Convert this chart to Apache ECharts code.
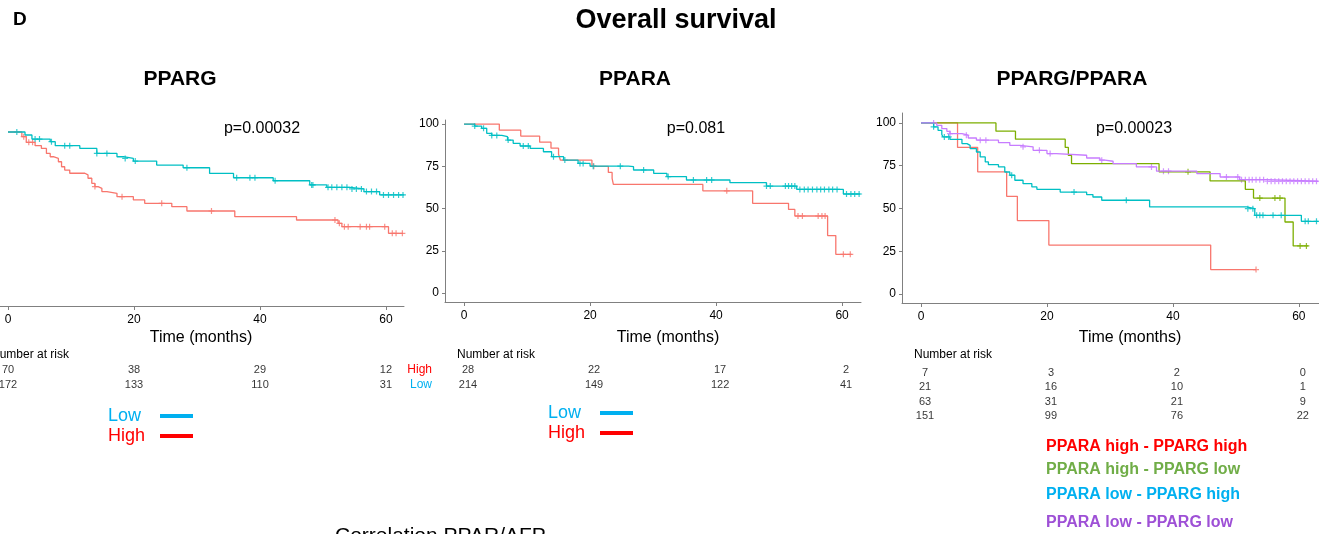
<!DOCTYPE html>
<html>
<head>
<meta charset="utf-8">
<title>Overall survival</title>
<script src="https://cdn.jsdelivr.net/npm/echarts@6/dist/echarts.min.js"></script>
<style>
  html, body { margin: 0; padding: 0; background: #fff; }
  #main { width: 1319px; height: 534px; }
</style>
</head>
<body>
<div id="main"></div>
<script>
// ---- data (months, survival %) ----
const months = [0, 20, 40, 60];
const survTicks = [0, 25, 50, 75, 100];

// PPARG panel
const ppargLow = [[0,100],[2.7,98.2],[3.8,95.8],[6.7,94.2],[7.5,91.8],[11.4,90.2],[14.1,87.2],[17.3,85.2],[18.3,84.2],[19.9,82.6],[23.6,80.2],[27.8,78.6],[32.0,75.2],[35.8,72.6],[42.1,70.8],[47.9,68.3],[50.6,66.9],[54.3,65.9],[56.5,64.3],[59.0,62.3],[62.9,62.3]];
const ppargLowCens = [1.4,4.3,5.0,6.9,9.0,9.8,14.1,15.7,18.6,20.2,28.4,36.3,38.4,39.2,42.4,48.2,48.4,50.8,51.4,52.2,53.0,53.8,54.6,55.3,56.1,56.9,57.7,58.5,59.6,60.4,61.2,62.0,62.7];
const ppargHigh = [[0,100],[2.2,97.2],[2.9,93.8],[4.3,91.8],[5.3,90.2],[6.1,87.2],[6.7,85.2],[7.2,84.2],[8.0,82.2],[8.5,79.2],[9.0,77.2],[9.8,75.3],[12.2,74.3],[12.7,72.3],[13.3,69.3],[13.8,67.3],[14.3,66.3],[14.9,64.3],[15.7,63.3],[17.3,61.3],[19.9,59.3],[21.7,57.3],[26.0,55.3],[28.4,52.7],[36.0,49.3],[45.8,47.3],[52.4,45.3],[53.0,43.3],[60.4,39.3],[62.7,39.3]];
const ppargHighCens = [2.5,3.3,3.9,13.8,18.1,24.4,32.3,51.9,52.6,53.4,54.0,55.9,56.9,57.4,59.8,61.0,61.6,62.6];

// PPARA panel
const pparaLow = [[0,100],[1.7,98.8],[2.8,97.5],[3.6,94.5],[4.4,93.3],[6.0,92.5],[6.9,90.5],[7.8,88.6],[8.9,87.0],[10.5,85.6],[12.6,83.6],[13.9,80.7],[15.8,78.7],[18.1,76.7],[20.0,75.1],[26.1,74.8],[26.9,72.8],[30.1,70.8],[32.2,68.9],[35.3,66.9],[42.2,65.3],[48.0,63.3],[52.8,61.3],[60.2,58.6],[62.9,58.6]];
const pparaLowCens = [1.7,3.1,4.4,5.2,7.0,9.4,10.2,14.2,16.0,18.4,18.9,20.5,24.8,28.5,32.4,36.4,38.5,39.3,48.0,48.6,51.0,51.5,52.0,52.5,53.3,54.0,54.6,55.3,56.0,56.6,57.2,57.9,58.5,59.2,60.7,61.4,62.0,62.7];
const pparaHigh = [[0,100],[5.6,96.4],[9.0,92.9],[12.0,89.3],[13.8,85.7],[15.0,82.1],[15.3,78.6],[20.3,75.0],[22.9,71.4],[23.5,67.9],[23.7,64.3],[37.9,60.5],[45.8,53.1],[51.5,49.5],[52.5,45.6],[57.7,34.0],[59.0,22.9],[61.5,22.9]];
const pparaHighCens = [20.6,41.7,53.0,53.7,56.2,56.8,57.3,60.2,61.3];

// PPARG/PPARA panel
const hiHi = [[0,100],[5.8,85.7],[9.0,71.4],[13.6,57.1],[15.3,42.9],[20.3,28.6],[46.0,14.3],[53.2,14.3]];
const hiHiCens = [53.2];
const hiLo = [[0,100],[11.9,95.2],[15.0,90.5],[22.9,85.7],[23.4,81.0],[23.9,76.2],[37.8,71.4],[45.9,66.1],[51.5,61.2],[52.8,56.1],[57.8,42.1],[59.1,28.1],[61.5,28.1]];
const hiLoCens = [42.4,53.8,56.2,57.0,60.2,61.2];
const loHi = [[0,100],[2.0,97.7],[2.7,95.7],[3.3,93.2],[3.5,91.8],[4.6,90.4],[6.5,87.9],[7.3,86.9],[7.8,85.0],[8.8,83.0],[9.4,80.1],[10.2,77.2],[10.7,75.6],[12.3,74.3],[13.3,71.3],[14.1,69.4],[14.9,66.5],[16.2,64.5],[17.6,62.6],[18.4,61.2],[22.1,59.6],[26.3,58.1],[27.3,56.7],[28.7,54.8],[36.3,50.9],[51.7,49.9],[53.0,46.0],[60.4,42.5],[63.1,42.5]];
const loHiCens = [2.0,3.7,4.4,14.4,24.3,32.6,51.9,52.7,53.3,53.8,54.3,55.9,57.2,61.0,61.5,62.8];
const loLo = [[0,100],[2.5,98.6],[3.3,96.7],[4.1,95.1],[4.6,93.8],[6.5,92.8],[7.5,91.2],[8.8,89.9],[12.3,88.5],[14.1,86.9],[15.7,86.0],[17.8,84.0],[20.0,82.1],[21.5,81.1],[26.3,79.5],[28.4,78.2],[29.2,77.6],[30.5,76.2],[34.2,74.3],[37.4,71.8],[43.8,70.4],[47.5,68.4],[50.6,66.8],[54.9,65.9],[63.1,65.9]];
const loLoCens = [2.0,4.6,7.2,9.4,10.3,16.2,18.8,20.5,28.7,36.6,38.5,39.3,48.5,50.3,50.9,51.5,52.1,52.6,53.2,53.8,54.4,55.0,55.6,56.2,56.8,57.4,58.0,58.6,59.2,59.8,60.4,61.0,61.6,62.2,62.8];

// numbers at risk at 0, 20, 40, 60 months
const riskPpargHigh = [70, 38, 29, 12];
const riskPpargLow = [172, 133, 110, 31];
const riskPparaHigh = [28, 22, 17, 2];
const riskPparaLow = [214, 149, 122, 41];
const riskHiHi = [7, 3, 2, 0];
const riskHiLo = [21, 16, 10, 1];
const riskLoHi = [63, 31, 21, 9];
const riskLoLo = [151, 99, 76, 22];

const pValues = ['p=0.00032', 'p=0.081', 'p=0.00023'];
const comboNames = ['PPARA high - PPARG high', 'PPARA high - PPARG low', 'PPARA low - PPARG high', 'PPARA low - PPARG low'];

// ---- styling ----
const FONT = '"Liberation Sans", Arial, sans-serif';
const TEAL = '#00BFC4', SALMON = '#F8766D', GREEN = '#7CAE00', PURPLE = '#C77CFF';
const AXIS = '#808080';
const PLUS = 'path://M2,0H3V2H5V3H3V5H2V3H0V2H2Z';

// survival value of a step curve at time t (to sit censor marks on the curve)
function survAt(curve, t) {
  let v = curve[0][1];
  for (const p of curve) { if (p[0] <= t) v = p[1]; }
  return v;
}

function km(curve, color, idx) {
  return {
    type: 'line', step: 'end', xAxisIndex: idx, yAxisIndex: idx,
    data: curve, symbol: 'none', silent: true, animation: false,
    lineStyle: { color: color, width: 1.3 }
  };
}

function cens(curve, times, color, idx) {
  return {
    type: 'scatter', xAxisIndex: idx, yAxisIndex: idx, silent: true, animation: false,
    data: times.map(t => [t, survAt(curve, t)]),
    symbol: PLUS, symbolSize: 6, itemStyle: { color: color }
  };
}

function risk(rows, idx, dx) {
  const data = [];
  rows.forEach((r, i) => months.forEach((m, j) => data.push([m, i, r[j]])));
  return {
    type: 'scatter', xAxisIndex: idx, yAxisIndex: idx, silent: true, animation: false,
    data: data, symbolSize: 1, itemStyle: { color: 'transparent' },
    label: { show: true, position: 'inside', offset: [dx, 0], color: '#000', fontSize: 11, fontFamily: FONT,
      formatter: p => String(p.value[2]) }
  };
}

function timeAxis(idx, min, max) {
  return {
    type: 'value', gridIndex: idx, min: min, max: max,
    splitLine: { show: false },
    axisLine: { show: true, onZero: false, lineStyle: { color: AXIS, width: 1 } },
    axisTick: { show: true, length: 4, lineStyle: { color: AXIS }, customValues: months },
    axisLabel: { color: '#000', fontSize: 12, fontFamily: FONT, margin: 8, customValues: months }
  };
}

function survAxis(idx, min, max, show) {
  return {
    type: 'value', gridIndex: idx, min: min, max: max, show: show,
    splitLine: { show: false },
    axisLine: { show: true, onZero: false, lineStyle: { color: AXIS, width: 1 } },
    axisTick: { show: true, length: 3, lineStyle: { color: AXIS }, customValues: survTicks },
    axisLabel: { color: '#000', fontSize: 12, fontFamily: FONT, margin: 6, customValues: survTicks }
  };
}

function hiddenX(idx, min, max) {
  return { type: 'value', gridIndex: idx, min: min, max: max, show: false };
}
function hiddenY(idx, n) {
  return { type: 'value', gridIndex: idx, min: -0.5, max: n - 0.5, inverse: true, show: false };
}

function txt(x, y, text, font, color, align) {
  return { type: 'text', x: x, y: y, silent: true,
    style: { text: text, font: font, fill: color || '#000', textAlign: align || 'left', textVerticalAlign: 'middle' } };
}
function bar(x1, x2, y, color) {
  return { type: 'line', silent: true, shape: { x1: x1, y1: y, x2: x2, y2: y }, style: { stroke: color, lineWidth: 4 } };
}

const chart = echarts.init(document.getElementById('main'), null, { renderer: 'canvas' });

const option = {
  backgroundColor: '#fff',
  animation: false,
  grid: [
    { left: 0, top: 124, width: 404, height: 182 },
    { left: 445, top: 120, width: 416, height: 182 },
    { left: 902, top: 113, width: 417, height: 190 },
    { left: 0, top: 362.5, width: 404, height: 30 },
    { left: 445, top: 362.5, width: 416, height: 30 },
    { left: 902, top: 365.8, width: 417, height: 57.2 }
  ],
  xAxis: [
    timeAxis(0, -1.27, 62.86),
    timeAxis(1, -3.02, 63.0),
    timeAxis(2, -3.02, 63.2),
    hiddenX(3, -1.27, 62.86),
    hiddenX(4, -3.02, 63.0),
    hiddenX(5, -3.02, 63.2)
  ],
  yAxis: [
    survAxis(0, -4.2, 104.8, false),
    survAxis(1, -5.3, 102.4, true),
    survAxis(2, -5.26, 105.8, true),
    hiddenY(3, 2),
    hiddenY(4, 2),
    hiddenY(5, 4)
  ],
  series: [
    km(ppargHigh, SALMON, 0), cens(ppargHigh, ppargHighCens, SALMON, 0),
    km(ppargLow, TEAL, 0), cens(ppargLow, ppargLowCens, TEAL, 0),
    km(pparaHigh, SALMON, 1), cens(pparaHigh, pparaHighCens, SALMON, 1),
    km(pparaLow, TEAL, 1), cens(pparaLow, pparaLowCens, TEAL, 1),
    km(hiHi, SALMON, 2), cens(hiHi, hiHiCens, SALMON, 2),
    km(hiLo, GREEN, 2), cens(hiLo, hiLoCens, GREEN, 2),
    km(loHi, TEAL, 2), cens(loHi, loHiCens, TEAL, 2),
    km(loLo, PURPLE, 2), cens(loLo, loLoCens, PURPLE, 2),
    risk([riskPpargHigh, riskPpargLow], 3, 0),
    risk([riskPparaHigh, riskPparaLow], 4, 4),
    risk([riskHiHi, riskHiLo, riskLoHi, riskLoLo], 5, 4)
  ],
  graphic: [
    txt(13, 20, 'D', 'bold 19px ' + FONT),
    txt(676, 21, 'Overall survival', 'bold 27px ' + FONT, '#000', 'center'),
    txt(180, 79, 'PPARG', 'bold 21px ' + FONT, '#000', 'center'),
    txt(635, 79, 'PPARA', 'bold 21px ' + FONT, '#000', 'center'),
    txt(1072, 79, 'PPARG/PPARA', 'bold 21px ' + FONT, '#000', 'center'),
    txt(262, 129, pValues[0], '16px ' + FONT, '#000', 'center'),
    txt(696, 129, pValues[1], '16px ' + FONT, '#000', 'center'),
    txt(1134, 129, pValues[2], '16px ' + FONT, '#000', 'center'),
    txt(201, 338, 'Time (months)', '16px ' + FONT, '#000', 'center'),
    txt(668, 338, 'Time (months)', '16px ' + FONT, '#000', 'center'),
    txt(1130, 338, 'Time (months)', '16px ' + FONT, '#000', 'center'),
    txt(-9, 355, 'Number at risk', '12px ' + FONT),
    txt(457, 355, 'Number at risk', '12px ' + FONT),
    txt(914, 355, 'Number at risk', '12px ' + FONT),
    txt(432, 370, 'High', '12px ' + FONT, '#ff0000', 'right'),
    txt(432, 385, 'Low', '12px ' + FONT, '#00b0f0', 'right'),
    txt(108, 416, 'Low', '18px ' + FONT, '#00b0f0'),
    bar(160, 193, 416, '#00b0f0'),
    txt(108, 436, 'High', '18px ' + FONT, '#ff0000'),
    bar(160, 193, 436, '#ff0000'),
    txt(548, 413, 'Low', '18px ' + FONT, '#00b0f0'),
    bar(600, 633, 413, '#00b0f0'),
    txt(548, 433, 'High', '18px ' + FONT, '#ff0000'),
    bar(600, 633, 433, '#ff0000'),
    txt(1046, 447, comboNames[0], 'bold 16px ' + FONT, '#ff0000'),
    txt(1046, 470, comboNames[1], 'bold 16px ' + FONT, '#70ad47'),
    txt(1046, 495, comboNames[2], 'bold 16px ' + FONT, '#00b0f0'),
    txt(1046, 523, comboNames[3], 'bold 16px ' + FONT, '#9e50d6'),
    txt(335, 536, 'Correlation PPAR/AFP', '21px ' + FONT)
  ]
};

chart.setOption(option);
</script>
</body>
</html>
